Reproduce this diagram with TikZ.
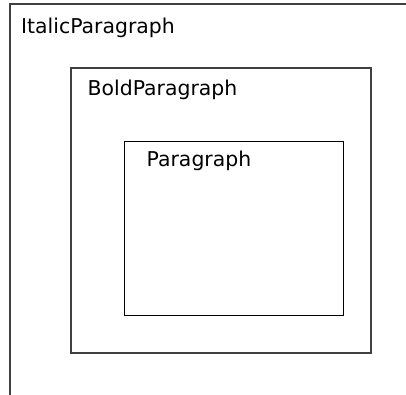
\documentclass[tikz,border=0pt]{standalone}
\usepackage{fontspec}
\setmainfont{DejaVu Sans}
\begin{document}
\begin{tikzpicture}[x=1pt,y=-1pt,
  frame/.style={draw=black!75,line width=1.2pt},
  lbl/.style={anchor=base west,inner sep=0pt,font=\fontsize{20.4}{23}\selectfont}]
\useasboundingbox (0,0) rectangle (406,395);
\draw[frame] (10,395) -- (10,4) -- (406,4);
\draw[frame] (71,68) rectangle (371,353);
\draw[draw=black,line width=1pt] (124,142) rectangle (343,315);
\node[lbl] (italic) at (21,34) {ItalicParagraph};
\node[lbl] (bold) at (87.5,95.3) {BoldParagraph};
\node[lbl] (para) at (146.5,167) {Paragraph};
\end{tikzpicture}
\end{document}
